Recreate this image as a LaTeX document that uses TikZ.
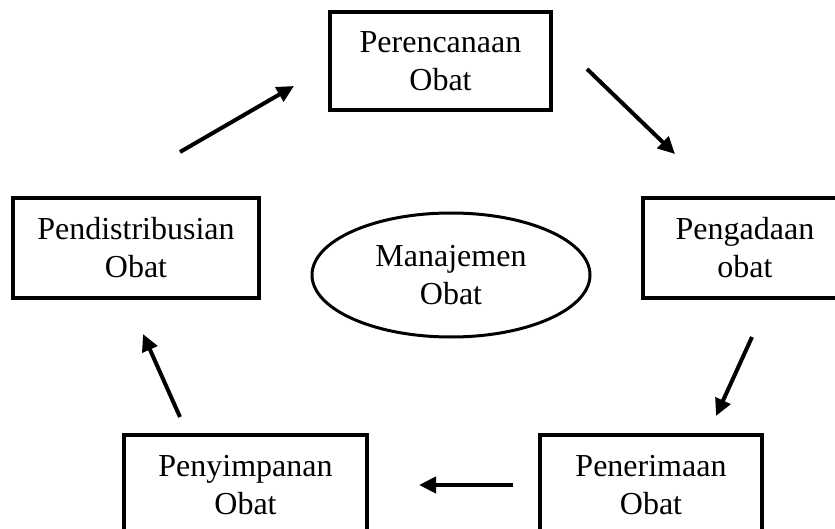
\documentclass[tikz,border=0pt]{standalone}
\usepackage{fontspec}
\setmainfont{Liberation Serif}
\usetikzlibrary{arrows.meta,shapes.geometric}
\begin{document}
\begin{tikzpicture}[x=1pt,y=-1pt,
  stagebox/.style={draw,line width=3.5pt,rectangle,align=center,
    font=\fontsize{32}{38}\selectfont,inner sep=0pt},
  hub/.style={draw,line width=3pt,ellipse,align=center,
    font=\fontsize{32}{38}\selectfont,inner sep=0pt},
  flow/.style={line width=4pt,-{Triangle[length=17pt,width=16pt]}}]
\useasboundingbox (0,0) rectangle (835,529);
\clip (0,0) rectangle (835,529);
\node[stagebox,minimum width=221pt,minimum height=98pt] (ren) at (440.5,61) {Perencanaan\\Obat};
\node[stagebox,minimum width=204pt,minimum height=100pt] (ada) at (745,248) {Pengadaan\\obat};
\node[stagebox,minimum width=246pt,minimum height=100pt] (dis) at (136,248) {Pendistribusian\\Obat};
\node[stagebox,minimum width=222pt,minimum height=100pt] (ter) at (651,485) {Penerimaan\\Obat};
\node[stagebox,minimum width=243pt,minimum height=100pt] (sim) at (245.5,485) {Penyimpanan\\Obat};
\node[hub,minimum width=278pt,minimum height=124pt] (man) at (451,275) {Manajemen\\Obat};
\coordinate (a1s) at (180,152);
\coordinate (a1e) at (294,86);
\coordinate (a2s) at (587,69);
\coordinate (a2e) at (675,154);
\coordinate (a3s) at (752,337);
\coordinate (a3e) at (716,416);
\coordinate (a4s) at (513,485);
\coordinate (a4e) at (419,485);
\coordinate (a5s) at (180,417);
\coordinate (a5e) at (143,334);
\draw[flow] (a1s) -- (a1e);
\draw[flow] (a2s) -- (a2e);
\draw[flow] (a3s) -- (a3e);
\draw[flow] (a4s) -- (a4e);
\draw[flow] (a5s) -- (a5e);
\end{tikzpicture}
\end{document}
